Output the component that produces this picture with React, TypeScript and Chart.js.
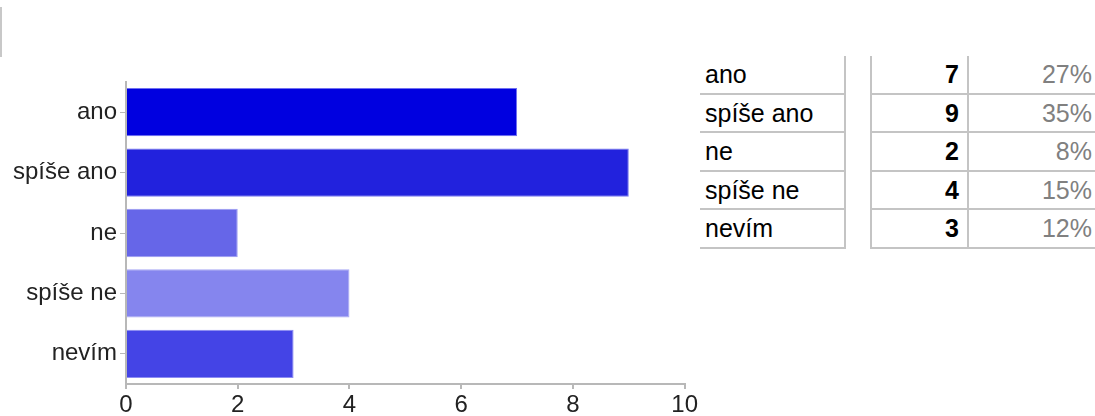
import React, { useEffect, useRef } from "react";
import { Chart, registerables } from "chart.js";

Chart.register(...registerables);

const categories = ["ano", "spíše ano", "ne", "spíše ne", "nevím"];
const counts = [7, 9, 2, 4, 3];
const percents = ["27%", "35%", "8%", "15%", "12%"];
const barColors = ["#0000e0", "#2222dd", "#6666e8", "#8585ee", "#4444e6"];
const barBorders = ["#6f6ff0", "#7a7af0", "#9a9af2", "#a8a8f4", "#8c8cf2"];
const xTicks = [0, 2, 4, 6, 8, 10];

const FONT = "'Liberation Sans', Arial, Helvetica, sans-serif";

function BarChart() {
  const ref = useRef<HTMLCanvasElement | null>(null);
  useEffect(() => {
    if (!ref.current) return;
    const chart = new Chart(ref.current, {
      type: "bar",
      data: {
        labels: categories,
        datasets: [
          {
            data: counts,
            backgroundColor: barColors,
            borderColor: barBorders,
            borderWidth: 1,
            categoryPercentage: 1,
            barPercentage: 0.8,
          },
        ],
      },
      options: {
        indexAxis: "y",
        animation: false,
        responsive: false,
        maintainAspectRatio: false,
        layout: { padding: { left: 0, right: 15, top: 22, bottom: 0 } },
        plugins: { legend: { display: false }, tooltip: { enabled: false } },
        scales: {
          x: {
            min: xTicks[0],
            max: xTicks[xTicks.length - 1],
            afterBuildTicks: (s: any) => {
              s.ticks = xTicks.map((v) => ({ value: v }));
            },
            afterFit: (s: any) => {
              s.height = 32;
            },
            grid: {
              drawOnChartArea: false,
              drawTicks: true,
              tickLength: 5,
              color: "#b8b8b8",
              lineWidth: 2,
            },
            border: { display: true, color: "#b8b8b8", width: 2 },
            ticks: {
              color: "#222",
              font: { family: FONT, size: 24 },
              padding: 2,
              maxRotation: 0,
            },
          },
          y: {
            afterFit: (s: any) => {
              s.width = 126;
            },
            grid: {
              offset: false,
              drawOnChartArea: false,
              drawTicks: true,
              tickLength: 6,
              color: "#b8b8b8",
              lineWidth: 1,
            },
            border: { display: true, color: "#b8b8b8", width: 2 },
            ticks: {
              color: "#222",
              font: { family: FONT, size: 24 },
              padding: 3,
            },
          },
        },
      },
    });
    return () => chart.destroy();
  }, []);
  return (
    <canvas
      ref={ref}
      width={700}
      height={356}
      style={{ position: "absolute", left: 0, top: 60, width: 700, height: 356 }}
    />
  );
}

const ROW_H = 38.6;
const lineColor = "#c4c4c4";

function Table() {
  return (
    <>
      <div
        style={{
          position: "absolute",
          left: 700,
          top: 56,
          width: 146,
          fontFamily: FONT,
          fontSize: 25,
        }}
      >
        {categories.map((c, i) => (
          <div
            key={c}
            style={{
              boxSizing: "border-box",
              height: ROW_H,
              lineHeight: `${ROW_H - 2}px`,
              borderBottom: `2px solid ${lineColor}`,
              borderRight: `2px solid ${lineColor}`,
              paddingLeft: 5,
              color: "#000",
              whiteSpace: "nowrap",
            }}
          >
            {c}
          </div>
        ))}
      </div>
      <div
        style={{
          position: "absolute",
          left: 870,
          top: 56,
          width: 230,
          fontFamily: FONT,
          fontSize: 25,
          borderLeft: `2px solid ${lineColor}`,
        }}
      >
        {counts.map((n, i) => (
          <div
            key={i}
            style={{
              boxSizing: "border-box",
              height: ROW_H,
              lineHeight: `${ROW_H - 2}px`,
              borderBottom: `2px solid ${lineColor}`,
              display: "flex",
            }}
          >
            <div
              style={{
                width: 97,
                boxSizing: "border-box",
                borderRight: `2px solid ${lineColor}`,
                textAlign: "right",
                paddingRight: 8,
                fontWeight: "bold",
                color: "#000",
              }}
            >
              {n}
            </div>
            <div
              style={{
                width: 123,
                textAlign: "right",
                color: "#808080",
              }}
            >
              {percents[i]}
            </div>
          </div>
        ))}
      </div>
    </>
  );
}

export default function App() {
  return (
    <div
      style={{
        position: "absolute",
        left: 0,
        top: 0,
        width: 1095,
        height: 416,
        overflow: "hidden",
        background: "#fff",
      }}
    >
      <div
        style={{
          position: "absolute",
          left: 0,
          top: 7,
          width: 2,
          height: 50,
          background: "#c8c8c8",
        }}
      />
      <BarChart />
      <Table />
    </div>
  );
}
